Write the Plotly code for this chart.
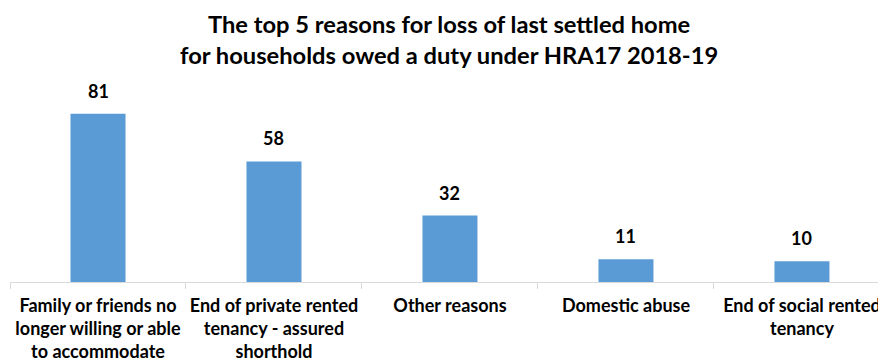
import plotly.graph_objects as go

categories = [
    "Family or friends no<br>longer willing or able<br>to accommodate",
    "End of private rented<br>tenancy - assured<br>shorthold",
    "Other reasons",
    "Domestic abuse",
    "End of social rented<br>tenancy",
]
values = [81, 58, 32, 11, 10]
title_text = "The top 5 reasons for loss of last settled home<br>for households owed a duty under HRA17 2018-19"

bar_color = "#5B9BD5"
FONT = "Lato"

fig = go.Figure()
fig.add_trace(go.Bar(
    x=categories, y=values, width=0.3125,
    marker=dict(color=bar_color, line=dict(width=0)),
    hoverinfo="skip",
))

for c, v in zip(categories, values):
    fig.add_annotation(
        x=c, y=v, text=str(v), showarrow=False,
        xref="x", yref="y", yanchor="bottom", yshift=10,
        font=dict(family=FONT, size=18, color="#000000", weight="bold"),
    )

# title as a paper-anchored annotation
fig.add_annotation(
    text=title_text, showarrow=False,
    xref="paper", x=0.5058, xanchor="center",
    yref="paper", y=1.297, yanchor="middle",
    font=dict(family=FONT, size=23.7, color="#000000", weight="bold"),
)

fig.update_layout(
    width=878, height=358,
    margin=dict(l=10, r=0, t=95, b=76, autoexpand=False),
    paper_bgcolor="white", plot_bgcolor="white",
    showlegend=False,
    xaxis=dict(
        type="category", range=[-0.5, 4.432], automargin=False, tickangle=0,
        showline=True, linecolor="#D9D9D9", linewidth=1,
        ticks="outside", tickson="boundaries", ticklen=6, tickcolor="#D9D9D9",
        tickfont=dict(family=FONT, size=18, color="#000000", weight="bold"),
        ticklabelstandoff=7,
        showgrid=False, zeroline=False, fixedrange=True,
    ),
    yaxis=dict(
        range=[0, 90], visible=False, showgrid=False, zeroline=False,
        automargin=False,
    ),
)

fig.write_html("out.html")
